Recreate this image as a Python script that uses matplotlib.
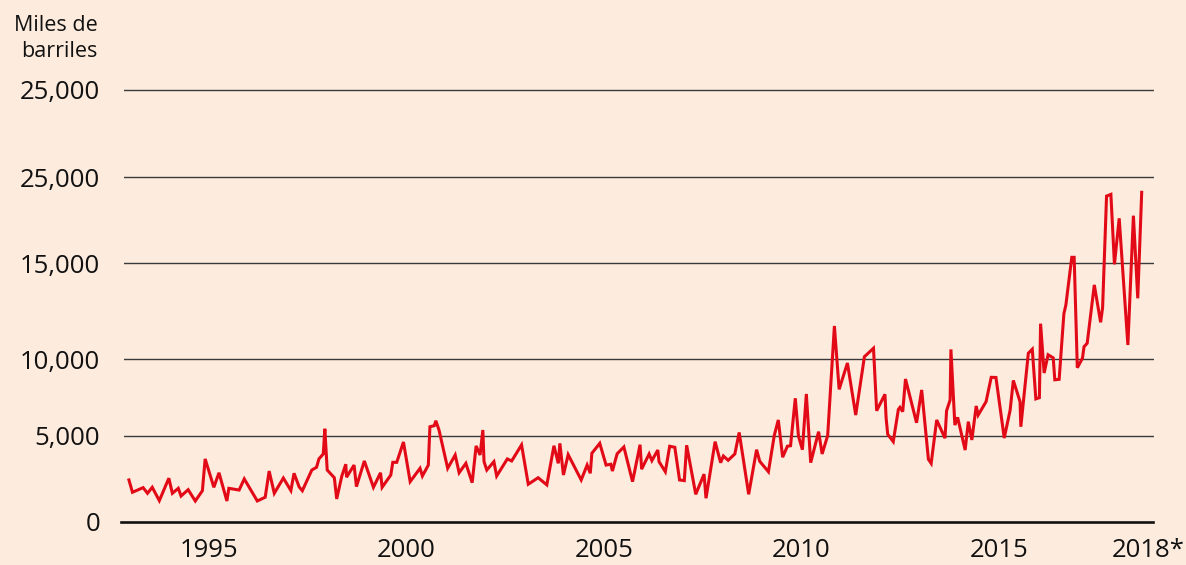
import numpy as np
import matplotlib
matplotlib.use("Agg")
import matplotlib.pyplot as plt

# ---------------- data ----------------
years = [
1992.98, 1993.07, 1993.34, 1993.45, 1993.57, 1993.75, 1993.99, 1994.08, 1994.23, 1994.30,
1994.48, 1994.66, 1994.84, 1994.91, 1995.13, 1995.26, 1995.46, 1995.51, 1995.77, 1995.90,
1996.23, 1996.43, 1996.53, 1996.66, 1996.89, 1997.08, 1997.16, 1997.29, 1997.37, 1997.61,
1997.73, 1997.79, 1997.90, 1997.94, 1998.00, 1998.18, 1998.24, 1998.37, 1998.47, 1998.49,
1998.68, 1998.74, 1998.94, 1999.17, 1999.35, 1999.39, 1999.61, 1999.66, 1999.76, 1999.93,
2000.10, 2000.35, 2000.41, 2000.56, 2000.60, 2000.71, 2000.75, 2000.83, 2001.05, 2001.24,
2001.34, 2001.51, 2001.67, 2001.77, 2001.87, 2001.94, 2001.97, 2002.04, 2002.22, 2002.29,
2002.56, 2002.67, 2002.92, 2003.09, 2003.34, 2003.56, 2003.74, 2003.85, 2003.89, 2003.98,
2004.10, 2004.43, 2004.58, 2004.66, 2004.70, 2004.90, 2005.06, 2005.18, 2005.22, 2005.34,
2005.51, 2005.73, 2005.92, 2005.96, 2006.15, 2006.22, 2006.37, 2006.40, 2006.56, 2006.67,
2006.80, 2006.92, 2007.04, 2007.10, 2007.33, 2007.54, 2007.59, 2007.82, 2007.96, 2008.03,
2008.15, 2008.32, 2008.43, 2008.67, 2008.87, 2008.95, 2009.17, 2009.32, 2009.42, 2009.53,
2009.65, 2009.73, 2009.85, 2009.93, 2010.03, 2010.13, 2010.24, 2010.44, 2010.53, 2010.67,
2010.84, 2010.96, 2011.17, 2011.38, 2011.60, 2011.83, 2011.91, 2012.12, 2012.15, 2012.19,
2012.33, 2012.46, 2012.50, 2012.57, 2012.64, 2012.92, 2013.05, 2013.22, 2013.29, 2013.43,
2013.64, 2013.68, 2013.77, 2013.79, 2013.89, 2013.96, 2014.15, 2014.23, 2014.32, 2014.43,
2014.48, 2014.68, 2014.81, 2014.93, 2015.14, 2015.29, 2015.37, 2015.54, 2015.56, 2015.75,
2015.85, 2015.94, 2016.03, 2016.06, 2016.15, 2016.25, 2016.38, 2016.42, 2016.53, 2016.65,
2016.70, 2016.85, 2016.91, 2016.99, 2017.12, 2017.16, 2017.24, 2017.42, 2017.58, 2017.63,
2017.73, 2017.84, 2017.93, 2018.05, 2018.27, 2018.41, 2018.52, 2018.62]

barrels = [
2430, 1710, 1980, 1650, 2000, 1220, 2530, 1650, 1940, 1490,
1860, 1200, 1800, 3660, 2000, 2850, 1200, 1940, 1840, 2490,
1200, 1420, 2950, 1650, 2540, 1810, 2820, 2020, 1800, 3010,
3170, 3660, 3950, 5470, 3010, 2560, 1320, 2660, 3350, 2590,
3300, 2040, 3540, 2000, 2850, 2000, 2720, 3460, 3460, 4650,
2330, 3110, 2660, 3300, 5600, 5670, 5990, 5390, 3110, 3890,
2850, 3400, 2270, 4420, 3890, 5390, 3500, 3010, 3500, 2660,
3660, 3540, 4480, 2180, 2560, 2140, 4430, 3400, 4570, 2720,
3910, 2430, 3300, 2820, 3990, 4570, 3300, 3350, 2950, 3960,
4360, 2330, 4490, 3060, 3950, 3560, 4180, 3500, 2910, 4400,
4340, 2430, 2390, 4460, 1590, 2770, 1360, 4670, 3440, 3830,
3580, 3950, 5230, 1590, 4200, 3520, 2910, 5060, 6040, 3760,
4400, 4430, 7450, 5000, 4200, 7730, 3440, 5280, 3950, 5030,
11720, 8030, 9740, 6360, 10120, 10560, 6640, 7710, 6150, 5110,
4670, 6730, 6860, 6580, 8700, 5860, 7990, 3640, 3400, 6040,
4870, 6640, 7340, 10500, 5710, 6210, 4180, 5930, 4770, 6950,
6360, 7230, 8810, 8800, 4880, 6690, 8610, 7230, 5600, 10300,
10510, 7410, 7490, 11840, 9090, 10220, 10060, 8650, 8680, 12360,
12810, 15330, 15330, 9430, 10040, 10640, 10820, 13860, 11910, 12670,
18890, 18990, 14930, 17600, 10730, 17750, 13160, 19110]

y_ticks = [0, 5000, 10000, 15000, 20000, 25000]
y_tick_labels = ["0", "5,000", "10,000", "15,000", "25,000", "25,000"]
x_ticks = [1995, 2000, 2005, 2010, 2015, 2018.78]
x_tick_labels = ["1995", "2000", "2005", "2010", "2015", "2018*"]
y_label = "Miles de\nbarriles"

# ---------------- style ----------------
BG = "#FDEBDE"
RED = "#E30A17"
GRID = "#3a3a3a"
W, H = 1186, 565

plt.rcParams["font.family"] = ["Open Sans", "DejaVu Sans"]

fig = plt.figure(figsize=(W / 100, H / 100), dpi=100)
fig.patch.set_facecolor(BG)

left_px, right_px = 124, 1154
bottom_px, top_px = 521.5, 80
ax = fig.add_axes([left_px / W, 1 - bottom_px / H,
                   (right_px - left_px) / W, (bottom_px - top_px) / H])
ax.set_facecolor(BG)

# piecewise scale matching the uneven spacing of the gridlines in the source
grid_vals = [0, 5000, 10000, 15000, 20000, 25000, 30000]
grid_pos = [0, 85.5, 162.5, 258.5, 344.5, 431.5, 517.5]
fwd = lambda v: np.interp(v, grid_vals, grid_pos)
inv = lambda p: np.interp(p, grid_pos, grid_vals)
ax.set_yscale("function", functions=(fwd, inv))
ax.set_ylim(0, float(inv(bottom_px - top_px)))

x0 = 1992.982 + (left_px - 129) / 39.5
x1 = 1992.982 + (right_px - 129) / 39.5
ax.set_xlim(x0, x1)

for v in y_ticks[1:]:
    ax.axhline(v, color=GRID, lw=1.0, zorder=1)
ax.axhline(0, xmin=-0.003, xmax=0.999, color="#111111", lw=1.9, zorder=3, clip_on=False)

ax.plot(years, barrels, color=RED, lw=2.2, zorder=2, solid_joinstyle="miter")

ax.set_yticks(y_ticks)
ax.set_yticklabels(y_tick_labels)
ax.set_xticks(x_ticks)
ax.set_xticklabels(x_tick_labels)
ax.tick_params(axis="both", length=0, labelsize=18.5, colors="#111111")
ax.tick_params(axis="y", pad=17)
ax.tick_params(axis="x", pad=12)
ax.minorticks_off()
for s in ax.spines.values():
    s.set_visible(False)

fig.text(98 / W, 1 - 15 / H, y_label, ha="right", va="top", fontsize=15.5,
         color="#111111", linespacing=1.3)

fig.savefig("out.png", dpi=100, facecolor=BG)
